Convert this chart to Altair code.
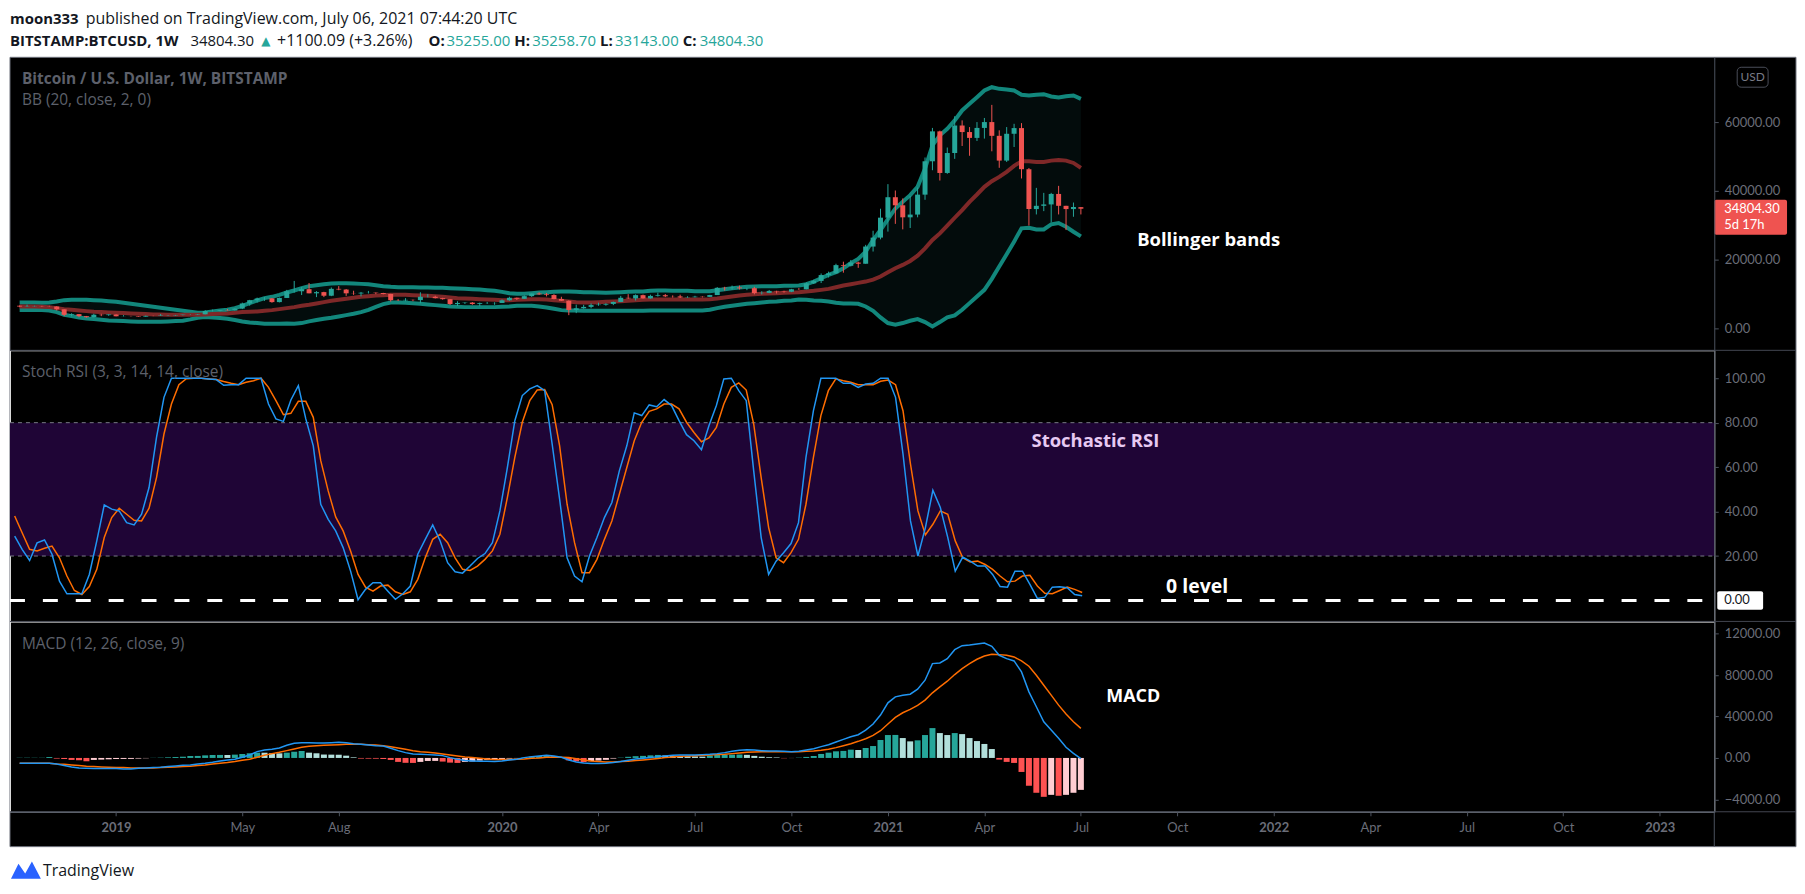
import altair as alt
import pandas as pd

# ---------------- data (weekly bars) ----------------
first_week = "2018-10-08"
n_weeks = 144

opens = [6590, 6340, 6420, 6480, 6410, 6360, 5550, 3950, 4150, 3550,
         3250, 3970, 3860, 4050, 3520, 3550, 3530, 3410, 3640, 3630,
         3750, 3790, 3880, 3990, 3990, 4100, 5050, 5070, 5270, 5200,
         5760, 7240, 8200, 8700, 8730, 7650, 8850, 10800, 10800, 11400,
         10200, 10550, 9500, 11500, 11300, 10200, 10150, 10380, 10400, 10300,
         10000, 8200, 8150, 8300, 8230, 9200, 9200, 8800, 8500, 7100,
         7400, 7500, 7100, 7350, 7350, 7400, 8170, 8900, 8600, 9380,
         10150, 9900, 9700, 8550, 8030, 5360, 5850, 6250, 6780, 6900,
         7120, 7690, 8900, 8720, 9670, 8720, 9450, 9650, 9330, 9300,
         9000, 9070, 9230, 9160, 9700, 11800, 11700, 11900, 11650, 11700,
         10250, 10330, 10900, 10770, 10660, 11380, 11370, 13100, 13800, 15500,
         16000, 18400, 18200, 19150, 18800, 23800, 26400, 32200, 38150, 35800,
         32300, 33100, 38900, 48600, 57300, 45200, 51000, 59000, 57100, 55400,
         58300, 60000, 56000, 48800, 56600, 58250, 46300, 34700, 35650, 36050,
         39100, 35650, 34700, 35255]
closes = [6340, 6420, 6480, 6410, 6360, 5550, 3950, 4150, 3550, 3250,
          3970, 3860, 4050, 3520, 3550, 3530, 3410, 3640, 3630, 3750,
          3790, 3880, 3990, 3990, 4100, 5050, 5070, 5270, 5200, 5760,
          7240, 8200, 8700, 8730, 7650, 8850, 10800, 10820, 11400, 10200,
          10550, 9500, 11500, 11300, 10200, 10150, 10380, 10400, 10300, 10000,
          8200, 8150, 8300, 8230, 9200, 9220, 8800, 8500, 7100, 7400,
          7500, 7100, 7350, 7370, 7400, 8170, 8900, 8600, 9380, 10150,
          9900, 9700, 8550, 8030, 5360, 5850, 6250, 6780, 6900, 7120,
          7690, 8900, 8720, 9670, 8720, 9450, 9650, 9330, 9300, 9000,
          9070, 9230, 9160, 9700, 11800, 11700, 11900, 11650, 11700, 10250,
          10330, 10900, 10770, 10660, 11380, 11370, 13100, 13800, 15500, 16000,
          18400, 18200, 19150, 18800, 23800, 26400, 32200, 38150, 35800, 32300,
          33100, 38900, 48600, 57300, 45200, 51000, 59000, 57100, 55400, 58300,
          60000, 56000, 48800, 56600, 58250, 46300, 34700, 35650, 36050, 39100,
          35650, 34700, 35300, 34804.3]
highs = [6680, 6900, 6600, 6560, 6580, 6440, 5560, 4400, 4200, 3620,
         4250, 4250, 4100, 4100, 3850, 3640, 3580, 3730, 3700, 4200,
         3900, 3920, 3990, 4090, 4140, 5300, 5470, 5350, 5640, 5900,
         7500, 8300, 8950, 9100, 8830, 8980, 11200, 13800, 12000, 13200,
         10850, 10650, 11900, 12300, 11450, 10950, 10600, 10900, 10450, 10350,
         10050, 8520, 8800, 8400, 10500, 9950, 9500, 8900, 8530, 7900,
         7600, 7650, 7500, 7700, 7600, 8400, 9200, 8950, 9600, 10150,
         10500, 10300, 9950, 9200, 8150, 6900, 6850, 7250, 7470, 7300,
         7790, 9450, 9950, 9890, 9840, 9800, 10400, 9980, 9600, 9800,
         9350, 9480, 9320, 9760, 12000, 12100, 12450, 12450, 11800, 12100,
         10800, 11180, 10950, 10950, 11500, 11720, 13350, 14100, 15970, 16500,
         18800, 19400, 19900, 19400, 24300, 28400, 34800, 41950, 40100, 37800,
         38500, 40950, 49700, 58300, 57500, 52600, 61700, 60500, 58550, 60000,
         61200, 65000, 57600, 58550, 59500, 59700, 46650, 40870, 39420, 39420,
         41450, 35650, 36600, 35258.7]
lows = [6150, 6300, 6380, 6270, 6340, 5200, 3560, 3500, 3250, 3120,
        3220, 3550, 3650, 3500, 3480, 3460, 3360, 3370, 3560, 3620,
        3700, 3690, 3780, 3900, 3890, 4080, 4920, 4950, 5180, 5170,
        5600, 6600, 7500, 8000, 7450, 7550, 8850, 10400, 9700, 10200,
        9100, 9100, 9370, 11100, 9450, 9750, 9300, 10150, 9950, 9900,
        7800, 7950, 7900, 7900, 7300, 9000, 8700, 8350, 6800, 6500,
        7100, 6850, 6450, 7100, 6850, 7400, 8000, 8250, 8550, 9150,
        9720, 9300, 8450, 8000, 3850, 4440, 5700, 5850, 6580, 6600,
        6770, 7650, 8560, 8100, 8650, 8630, 9250, 9100, 8950, 8830,
        8900, 9000, 9000, 9100, 9700, 11000, 11250, 11300, 11120, 9900,
        9870, 10250, 10150, 10400, 10550, 11200, 11350, 12900, 13200, 14800,
        15800, 16200, 18000, 17600, 18800, 22350, 25900, 28150, 30400, 28800,
        29200, 32300, 37400, 46000, 43000, 44950, 49300, 53050, 50200, 54500,
        55200, 51500, 46700, 48400, 52750, 43600, 29900, 33140, 34100, 30820,
        33140, 28600, 32460, 33143]

bb_upper = [7537, 7537, 7537, 7440, 7537, 7826, 8213, 8310, 8310, 8310,
            8213, 8116, 7923, 7730, 7440, 7150, 6860, 6570, 6280, 5991,
            5701, 5411, 5121, 4831, 4541, 4638, 4928, 5218, 5411, 5894,
            6570, 7343, 8116, 8793, 9179, 9759, 10435, 11015, 11691, 12271,
            12561, 12851, 13044, 13141, 13141, 13044, 12947, 12851, 12561, 12271,
            12078, 11981, 11981, 11981, 11884, 11884, 11788, 11788, 11691, 11594,
            11498, 11401, 11305, 11111, 10918, 10628, 10242, 10049, 10049, 10242,
            10435, 10532, 10628, 10725, 10725, 10628, 10532, 10532, 10435, 10339,
            10435, 10532, 10628, 10725, 10725, 10918, 11015, 11015, 10918, 10918,
            10918, 10821, 10821, 10821, 11111, 11401, 11691, 11884, 12078, 12174,
            12271, 12271, 12271, 12368, 12368, 12466, 12852, 13622, 14590, 15556,
            16329, 17489, 18938, 20194, 22320, 25701, 28600, 31788, 34880, 36813,
            38745, 41160, 46475, 53238, 56137, 58069, 60478, 63383, 65316, 67248,
            69180, 70147, 69663, 69470, 69180, 67924, 67731, 67924, 68118, 67441,
            67151, 67538, 67731, 66765]
bb_mid = [6377, 6377, 6377, 6280, 6184, 5894, 5604, 5411, 5218, 5024,
          4831, 4735, 4638, 4541, 4445, 4348, 4251, 4155, 4058, 4058,
          3962, 3962, 3962, 3962, 3962, 4058, 4155, 4251, 4348, 4541,
          4735, 4831, 4928, 5121, 5314, 5604, 5894, 6184, 6570, 6860,
          7247, 7633, 8020, 8310, 8599, 8889, 9179, 9372, 9566, 9662,
          9759, 9759, 9759, 9662, 9566, 9469, 9372, 9179, 8986, 8793,
          8696, 8599, 8503, 8406, 8310, 8213, 8213, 8310, 8406, 8503,
          8503, 8406, 8213, 8020, 7826, 7633, 7537, 7537, 7633, 7730,
          7826, 7923, 8020, 8213, 8310, 8406, 8406, 8406, 8406, 8406,
          8406, 8406, 8406, 8503, 8696, 8986, 9276, 9566, 9759, 9952,
          10049, 10145, 10242, 10339, 10435, 10531, 10725, 10918, 11208, 11498,
          11981, 12466, 12852, 13239, 13622, 14202, 15072, 16329, 17489, 18455,
          19614, 21160, 23286, 25701, 27634, 29856, 32174, 34397, 36813, 38938,
          41160, 42803, 44059, 45508, 47248, 48600, 48600, 48407, 48407, 48794,
          48986, 48794, 48117, 46668]
bb_lower = [5314, 5314, 5314, 5314, 5218, 4735, 3962, 3575, 3189, 2899,
            2705, 2512, 2319, 2222, 2126, 2029, 1933, 1933, 1933, 1933,
            2029, 2126, 2222, 2609, 3092, 3285, 3189, 2995, 2802, 2416,
            2029, 1739, 1546, 1353, 1353, 1353, 1450, 1353, 1546, 2029,
            2416, 2802, 3092, 3479, 3865, 4252, 4735, 5411, 6280, 7054,
            7537, 7537, 7440, 7343, 7150, 6957, 6764, 6570, 6377, 6280,
            6184, 6184, 6184, 6184, 6184, 6280, 6377, 6570, 6570, 6570,
            6377, 6087, 5701, 5314, 5218, 5218, 5121, 5121, 5121, 5121,
            5121, 5121, 5121, 5121, 5121, 5218, 5218, 5218, 5218, 5218,
            5218, 5218, 5218, 5411, 5894, 6280, 6570, 6860, 7150, 7343,
            7537, 7730, 7826, 8020, 8116, 8406, 8309, 8116, 8019, 7827,
            7440, 7247, 7247, 7151, 6378, 5122, 3190, 1547, 1064, 1547,
            2223, 2706, 1837, 580, 1837, 3190, 3769, 5412, 7345, 9278,
            11210, 14398, 17973, 21548, 25220, 29083, 29276, 28793, 28793, 30243,
            30629, 29566, 28117, 26764]

stoch_k = [29.0, 23.0, 18.0, 25.9, 27.2, 20.8, 8.7, 3.0, 3.0, 3.0,
           11.7, 26.8, 43.0, 41.1, 40.3, 35.0, 34.0, 38.8, 50.8, 73.4,
           91.4, 100, 100, 100, 100, 100, 99.7, 99.4, 96.8, 97.1,
           97.1, 100, 100, 100, 88.4, 81.7, 80.6, 90.2, 96.7, 81.7,
           69.6, 43.3, 36.5, 31.3, 23.8, 13.2, 0.3, 5.0, 8.0, 8.0,
           4.2, 0.5, 3.0, 6.5, 20.8, 27.5, 34.0, 26.8, 17.0, 12.9,
           12.3, 15.5, 18.9, 21.1, 26.0, 40.3, 59.8, 80.9, 92.2, 95.2,
           96.7, 94.4, 70.4, 45.6, 19.2, 11.0, 8.4, 20.0, 28.3, 37.3,
           44.1, 58.3, 69.6, 84.4, 83.2, 88.0, 87.2, 90.4, 87.7, 80.9,
           74.6, 71.9, 67.8, 78.6, 87.7, 99.7, 100, 94.4, 89.9, 58.3,
           28.3, 11.7, 17.7, 21.5, 25.6, 35.0, 64.4, 85.4, 100, 100,
           100, 97.7, 97.7, 95.9, 97.4, 97.7, 100, 100, 91.4, 65.9,
           35.8, 20.0, 32.8, 49.6, 41.8, 28.3, 13.2, 19.5, 17.7, 15.5,
           15.5, 11.7, 6.3, 6.0, 13.2, 13.2, 7.2, 0.9, 1.5, 6.0,
           6.2, 5.7, 2.7, 2.1]
stoch_d = [38.0, 30.5, 23.0, 22.3, 23.5, 24.5, 19.2, 11.0, 4.5, 2.7,
           6.3, 14.0, 28.3, 37.3, 41.5, 38.8, 36.1, 35.8, 41.5, 55.3,
           74.9, 88.4, 97.1, 99.8, 100, 100, 99.7, 99.4, 98.5, 97.7,
           97.1, 98.2, 98.9, 100, 95.9, 89.9, 83.6, 84.2, 89.6, 89.6,
           82.4, 62.9, 49.3, 37.6, 31.3, 22.3, 11.7, 6.0, 4.2, 6.5,
           6.9, 3.9, 2.7, 3.9, 9.5, 19.2, 27.5, 29.8, 26.0, 19.2,
           14.0, 13.5, 15.5, 18.5, 22.3, 29.8, 46.3, 64.4, 80.2, 89.9,
           94.7, 94.9, 88.1, 69.6, 43.3, 26.0, 12.5, 12.5, 18.5, 27.5,
           35.8, 47.8, 59.8, 71.9, 80.2, 85.1, 86.2, 88.4, 88.4, 86.2,
           80.2, 75.6, 71.4, 73.1, 77.9, 88.4, 95.9, 97.9, 94.7, 79.4,
           55.3, 32.8, 19.2, 17.0, 21.5, 27.5, 43.3, 64.4, 83.2, 94.4,
           99.7, 98.9, 98.2, 97.1, 97.1, 97.1, 98.6, 99.2, 97.1, 85.4,
           61.4, 40.3, 29.5, 34.3, 40.3, 38.8, 26.8, 19.2, 17.3, 17.7,
           16.2, 14.0, 11.0, 8.4, 8.7, 11.0, 11.3, 6.5, 3.2, 3.0,
           4.5, 6.0, 5.0, 3.6]

macd_line = [-513, -513, -513, -513, -513, -577, -737, -865, -962, -994,
             -1026, -1026, -1026, -1026, -1058, -1058, -994, -962, -929, -897,
             -833, -769, -705, -673, -577, -513, -417, -288, -192, -128,
             64, 288, 609, 769, 833, 962, 1218, 1410, 1474, 1474,
             1442, 1442, 1474, 1506, 1474, 1378, 1314, 1250, 1186, 1154,
             929, 705, 513, 385, 353, 321, 288, 224, 32, -128,
             -256, -288, -321, -321, -353, -288, -192, -128, 32, 128,
             192, 256, 192, 64, -192, -385, -481, -545, -545, -513,
             -449, -353, -224, -96, -32, 32, 128, 192, 256, 288,
             288, 288, 321, 353, 417, 513, 641, 737, 801, 769,
             705, 673, 673, 641, 609, 641, 769, 897, 1090, 1282,
             1538, 1795, 2051, 2244, 2692, 3269, 4134, 5320, 5897, 6057,
             6154, 6634, 7500, 9102, 9166, 9583, 10448, 10833, 10897, 10993,
             11089, 10769, 9903, 9583, 9359, 8301, 6378, 4936, 3493, 2692,
             1891, 1026, 449, -64]
signal_line = [-513, -513, -513, -513, -513, -577, -609, -673, -737, -801,
               -833, -865, -897, -929, -929, -962, -962, -962, -962, -929,
               -897, -865, -833, -801, -737, -673, -577, -513, -449, -353,
               -224, -128, 64, 256, 417, 545, 705, 865, 1026, 1122,
               1186, 1218, 1250, 1282, 1314, 1314, 1314, 1282, 1250, 1186,
               1090, 962, 833, 705, 609, 545, 481, 385, 288, 192,
               96, 32, -32, -96, -160, -160, -160, -128, -96, -32,
               0, 64, 96, 64, 32, -64, -192, -288, -353, -385,
               -385, -353, -321, -256, -192, -128, -64, 32, 96, 160,
               192, 224, 256, 288, 321, 353, 417, 481, 545, 577,
               609, 609, 609, 609, 609, 609, 641, 673, 737, 833,
               994, 1186, 1378, 1603, 1859, 2179, 2628, 3269, 3910, 4359,
               4679, 5064, 5577, 6282, 6859, 7404, 8045, 8621, 9102, 9519,
               9839, 10000, 9968, 9903, 9743, 9359, 8846, 7980, 7019, 6057,
               5096, 4231, 3493, 2852]
histogram = [20, 20, 20, 20, 90, -60, -100, -190, -220, -320,
             -190, -160, -130, -100, -95, -90, -60, -30, 15, 30,
             60, 90, 120, 190, 195, 250, 285, 290, 285, 320,
             380, 450, 510, 505, 450, 445, 510, 600, 670, 510,
             450, 330, 320, 310, 220, 60, -60, -65, -70, -100,
             -190, -380, -470, -480, -380, -290, -285, -350, -450, -480,
             -380, -350, -250, -190, -130, -95, -60, -30, 30, 130,
             190, 250, 130, 30, -230, -330, -400, -310, -250, -180,
             -60, 30, 110, 170, 200, 250, 290, 240, 210, 190,
             170, 150, 130, 240, 290, 310, 320, 330, 300, 200,
             120, 70, 50, -30, -10, 30, 100, 190, 385, 510,
             640, 680, 800, 770, 960, 1150, 1730, 2210, 2220, 1920,
             1600, 1700, 2210, 2880, 2400, 2210, 2400, 2300, 1920, 1630,
             1350, 860, -160, -380, -480, -1350, -2690, -3360, -3750, -3560,
             -3650, -3560, -3360, -3080]
hist_state = ["T", "T", "T", "T", "T", "R", "R", "R", "R", "R",
              "P", "P", "P", "P", "P", "P", "P", "P", "T", "T",
              "T", "T", "T", "T", "T", "T", "T", "T", "L", "T",
              "T", "T", "T", "L", "L", "L", "T", "T", "T", "L",
              "L", "L", "L", "L", "L", "L", "R", "R", "R", "R",
              "R", "R", "R", "R", "P", "P", "P", "R", "R", "R",
              "P", "P", "P", "P", "P", "P", "P", "P", "T", "T",
              "T", "T", "L", "L", "R", "R", "R", "P", "P", "P",
              "P", "T", "T", "T", "T", "T", "T", "L", "L", "L",
              "L", "L", "L", "T", "T", "T", "T", "T", "L", "L",
              "L", "L", "L", "R", "P", "T", "T", "T", "T", "T",
              "T", "T", "T", "L", "T", "T", "T", "T", "T", "L",
              "L", "T", "T", "T", "L", "L", "T", "L", "L", "L",
              "L", "L", "R", "R", "R", "R", "R", "R", "R", "P",
              "R", "P", "P", "P"]

price_ticks = [0, 20000, 40000, 60000]
stoch_ticks = [20, 40, 60, 80, 100]
macd_ticks = [-4000, 0, 4000, 8000, 12000]
time_ticks = [(2019, 1, 7), (2019, 5, 6), (2019, 8, 5), (2020, 1, 6), (2020, 4, 6),
              (2020, 7, 6), (2020, 10, 5), (2021, 1, 4), (2021, 4, 5), (2021, 7, 5),
              (2021, 10, 4), (2022, 1, 3), (2022, 4, 4), (2022, 7, 4), (2022, 10, 3),
              (2023, 1, 2)]

# ---------------- frame ----------------
weeks = pd.date_range(first_week, periods=n_weeks, freq="7D")
df = pd.DataFrame({
    "date": weeks.strftime("%Y-%m-%dT00:00:00"),
    "open": opens, "high": highs, "low": lows, "close": closes,
    "upper": bb_upper, "mid": bb_mid, "lower": bb_lower,
    "k": stoch_k, "d": stoch_d,
    "macd": macd_line, "signal": signal_line, "hist": histogram, "hs": hist_state,
})
one = pd.DataFrame({"a": [0]})

W, H1, H2, H3 = 1710, 294, 272, 191
FONT = "Open Sans"
AXFONT = "Lato"
GRAY_TXT = "#5d606b"
AX_LINE = "#4c525e"
AX_LBL = "#6a6d78"
UP, DN = "#26a69a", "#ef5350"

xscale = alt.Scale(domain=[alt.DateTime(year=2018, month=10, date=3, hours=14, minutes=40),
                           alt.DateTime(year=2023, month=2, date=17, hours=17, minutes=50)])
X = alt.X("date:T", scale=xscale, axis=None)
time_axis = alt.Axis(
    values=[alt.DateTime(year=y, month=m, date=d) for (y, m, d) in time_ticks],
    labelExpr="month(datum.value) == 0 ? timeFormat(datum.value, '%Y') : timeFormat(datum.value, '%b')",
    labelFontWeight={"condition": {"test": "month(datum.value) == 0", "value": "bold"}, "value": "normal"},
    title=None, grid=False, domainColor=AX_LINE, tickColor=AX_LINE, tickSize=4,
    labelColor=AX_LBL, labelFont=AXFONT, labelFontSize=13, labelPadding=6, zindex=1,
)
XT = alt.X("date:T", scale=xscale, axis=time_axis)


def yaxis(values):
    return alt.Axis(orient="right", values=values, format=".2f", title=None, grid=False,
                    domainColor=AX_LINE, tickColor=AX_LINE, tickSize=4, labelColor=AX_LBL,
                    labelFont=AXFONT, labelFontSize=13, labelPadding=6, zindex=1)


def txt(text, x, y, size=15, color=GRAY_TXT, weight="normal", align="left", font=FONT):
    return alt.Chart(one).mark_text(text=text, fontSize=size, color=color, fontWeight=weight,
                                    align=align, baseline="middle", font=font).encode(
        x=alt.value(x), y=alt.value(y))


def hrule(y, x2=1792, color="#434651", width=1):
    return alt.Chart(one).mark_rule(color=color, strokeWidth=width).encode(
        x=alt.value(0), x2=alt.value(x2), y=alt.value(y))


# ---------------- price panel ----------------
yp = alt.Scale(domain=[-6377, 78841], nice=False, zero=False)
pax = yaxis(price_ticks)
base = alt.Chart(df)
cond = alt.condition("datum.close >= datum.open", alt.value(UP), alt.value(DN))

bg = alt.Chart(one).mark_rect(fill="#000000", stroke="#70747e", strokeWidth=1).encode(
    x=alt.value(0), x2=alt.value(1792), y=alt.value(0), y2=alt.value(792))
anchor = alt.Chart(one).mark_rect(fill="#ffffff").encode(
    x=alt.value(0), x2=alt.value(1), y=alt.value(-47), y2=alt.value(-46))
band = base.mark_area(color="#030c0c").encode(x=X, y=alt.Y("upper:Q", scale=yp, axis=pax), y2="lower:Q")
up_l = base.mark_line(color="#12877c", strokeWidth=4).encode(x=X, y=alt.Y("upper:Q", scale=yp, axis=pax))
lo_l = base.mark_line(color="#12877c", strokeWidth=4).encode(x=X, y=alt.Y("lower:Q", scale=yp, axis=pax))
mid_l = base.mark_line(color="#7e2828", strokeWidth=4).encode(x=X, y=alt.Y("mid:Q", scale=yp, axis=pax))
wick = base.mark_rule(strokeWidth=1).encode(x=X, y=alt.Y("low:Q", scale=yp, axis=pax), y2="high:Q", color=cond)
body = base.mark_bar(size=5).encode(x=X, y=alt.Y("open:Q", scale=yp, axis=pax), y2="close:Q", color=cond)

lbl = pd.DataFrame({"top": [37400], "bot": [27200], "p": [34804.3], "p2": [30200]})
plabel = alt.Chart(lbl).mark_rect(fill="#ef5350", cornerRadius=2).encode(
    x=alt.value(1710), x2=alt.value(1783), y=alt.Y("top:Q", scale=yp, axis=pax), y2="bot:Q")
ptext1 = alt.Chart(lbl).mark_text(text="34804.30", color="#ffffff", fontSize=13, font=AXFONT,
                                  align="left", baseline="middle").encode(
    x=alt.value(1720), y=alt.Y("p:Q", scale=yp, axis=pax))
ptext2 = alt.Chart(lbl).mark_text(text="5d 17h", color="#ffffff", fontSize=13, font=AXFONT,
                                  align="left", baseline="middle").encode(
    x=alt.value(1720), y=alt.Y("p2:Q", scale=yp, axis=pax))
usd_box = alt.Chart(one).mark_rect(fill="#000000", stroke="#4a4e59", cornerRadius=4).encode(
    x=alt.value(1733), x2=alt.value(1764), y=alt.value(10), y2=alt.value(30))

TEAL = "#26a69a"
DARK = "#131722"
header = [
    txt("moon333", 0, -38, 15, DARK, "bold"),
    txt("published on TradingView.com, July 06, 2021 07:44:20 UTC", 76, -38, 16, DARK),
    txt("BITSTAMP:BTCUSD, 1W", 0, -16, 15, DARK, "bold"),
    txt("34804.30", 181, -16, 15, DARK),
    txt("\u25b2", 252, -16, 12, TEAL, font="DejaVu Sans"),
    txt("+1100.09 (+3.26%)", 268, -16, 16, DARK),
    txt("O:", 420, -16, 15, DARK, "bold"),
    txt("35255.00", 438, -16, 15, TEAL),
    txt("H:", 506, -16, 15, DARK, "bold"),
    txt("35258.70", 524, -16, 15, TEAL),
    txt("L:", 592, -16, 15, DARK, "bold"),
    txt("33143.00", 607, -16, 15, TEAL),
    txt("C:", 675, -16, 15, DARK, "bold"),
    txt("34804.30", 692, -16, 15, TEAL),
]

price_panel = alt.layer(
    bg, anchor, band, up_l, lo_l, mid_l, wick, body, plabel, ptext1, ptext2, usd_box,
    txt("USD", 1748.5, 20, 12, "#787b86", align="center", font=AXFONT),
    txt("Bitcoin / U.S. Dollar, 1W, BITSTAMP", 12, 22, 15.5, GRAY_TXT, "bold"),
    txt("BB (20, close, 2, 0)", 12, 43, 15.5, GRAY_TXT),
    txt("Bollinger bands", 1131, 183, 18.5, "#ffffff", "bold"),
    *header,
).properties(width=W, height=H1)

# ---------------- stochastic RSI panel ----------------
ys = alt.Scale(domain=[-9.42, 112.56], nice=False, zero=False)
sax = yaxis(stoch_ticks)
zone = pd.DataFrame({"top": [80], "bot": [20]})
lvls = pd.DataFrame({"lvl": [80, 20]})
zero_df = pd.DataFrame({"z": [0], "lo": [-4.2], "hi": [4.2]})

s_zone = alt.Chart(zone).mark_rect(color="#1f0536").encode(
    x=alt.value(0), x2=alt.value(W), y=alt.Y("top:Q", scale=ys, axis=sax), y2="bot:Q")
s_lvls = alt.Chart(lvls).mark_rule(color="#787b86", strokeWidth=1, strokeDash=[4, 4]).encode(
    x=alt.value(0), x2=alt.value(W), y=alt.Y("lvl:Q", scale=ys, axis=sax))
s_zero = alt.Chart(zero_df).mark_rule(color="#ffffff", strokeWidth=3, strokeDash=[15, 18]).encode(
    x=alt.value(0), x2=alt.value(1703), y=alt.Y("z:Q", scale=ys, axis=sax))
s_zbox = alt.Chart(zero_df).mark_rect(fill="#ffffff", cornerRadius=2).encode(
    x=alt.value(1713), x2=alt.value(1759), y=alt.Y("hi:Q", scale=ys, axis=sax), y2="lo:Q")
s_ztxt = alt.Chart(zero_df).mark_text(text="0.00", color="#131722", fontSize=13, font=AXFONT,
                                      align="left", baseline="middle").encode(
    x=alt.value(1720), y=alt.Y("z:Q", scale=ys, axis=sax))
s_d = base.mark_line(color="#ff6d00", strokeWidth=1.5).encode(x=X, y=alt.Y("d:Q", scale=ys, axis=sax))
s_k = base.mark_line(color="#2196f3", strokeWidth=1.5).encode(x=X, y=alt.Y("k:Q", scale=ys, axis=sax))

stoch_panel = alt.layer(
    s_zone, s_lvls, s_zero, s_d, s_k, s_zbox, s_ztxt,
    hrule(0),
    txt("Stoch RSI (3, 3, 14, 14, close)", 12, 22, 15.5, GRAY_TXT),
    txt("Stochastic RSI", 1025, 91, 18.5, "#e6c9f2", "bold"),
    txt("0 level", 1160, 237, 19.5, "#ffffff", "bold"),
).properties(width=W, height=H2)

# ---------------- MACD panel ----------------
ym = alt.Scale(domain=[-5192, 13173], nice=False, zero=False)
max_ = yaxis(macd_ticks)
m_hist = base.mark_bar(size=6).encode(
    x=XT, y=alt.Y("hist:Q", scale=ym, axis=max_), y2=alt.datum(0),
    color=alt.Color("hs:N", scale=alt.Scale(domain=["T", "L", "R", "P"],
                                            range=["#26a69a", "#b2dfdb", "#ff5252", "#ffcdd2"]),
                    legend=None))
m_sig = base.mark_line(color="#ff6d00", strokeWidth=1.5).encode(x=XT, y=alt.Y("signal:Q", scale=ym, axis=max_))
m_macd = base.mark_line(color="#2196f3", strokeWidth=1.5).encode(x=XT, y=alt.Y("macd:Q", scale=ym, axis=max_))
tv_icon = alt.Chart(one).mark_point(
    shape="M-1,0.55 L-0.5,-0.45 L-0.05,0.2 L0.4,-0.6 L1,0.55 Z",
    filled=True, color="#2962ff", size=900, opacity=1).encode(x=alt.value(16), y=alt.value(250))

macd_panel = alt.layer(
    m_hist, m_sig, m_macd,
    hrule(0), hrule(H3),
    alt.Chart(one).mark_rule(color=AX_LINE, strokeWidth=1).encode(
        x=alt.value(W), y=alt.value(H3), y2=alt.value(H3 + 35)),
    txt("MACD (12, 26, close, 9)", 12, 23, 15.5, GRAY_TXT),
    txt("MACD", 1100, 76, 18, "#ffffff", "bold"),
    tv_icon,
    txt("TradingView", 33, 250, 16, "#131722"),
).properties(width=W, height=H3)

chart = alt.vconcat(price_panel, stoch_panel, macd_panel, spacing=0, bounds="flush").properties(
    padding=0, background="#ffffff"
).configure_view(stroke=None).configure(font=FONT)

chart.save("out.html", embed_options={"renderer": "svg", "actions": False})
